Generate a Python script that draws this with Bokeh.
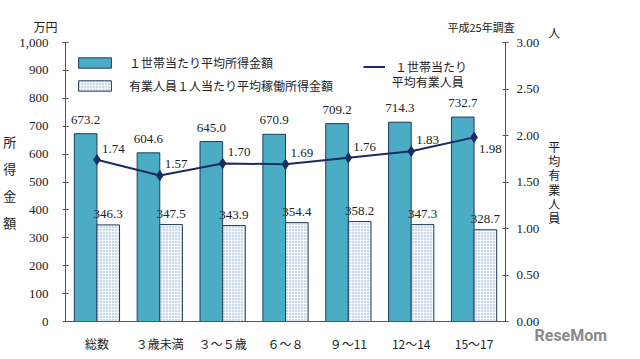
from bokeh.plotting import figure
from bokeh.models import (ColumnDataSource, FactorRange, Range1d, LinearAxis,
                          NumeralTickFormatter, Legend, LegendItem, Label, FixedTicker)
from bokeh.transform import dodge
from bokeh.core.properties import value
from bokeh.embed import file_html
from bokeh.resources import INLINE

# ---- data ----
categories = ["総数", "３歳未満", "３～５歳", "６～８", "９～11", "12～14", "15～17"]
household_income = [673.2, 604.6, 645.0, 670.9, 709.2, 714.3, 732.7]
earner_income = [346.3, 347.5, 343.9, 354.4, 358.2, 347.3, 328.7]
earners_per_household = [1.74, 1.57, 1.70, 1.69, 1.76, 1.83, 1.98]
left_ticks = [0, 100, 200, 300, 400, 500, 600, 700, 800, 900, 1000]
right_ticks = [0.0, 0.5, 1.0, 1.5, 2.0, 2.5, 3.0]

# ---- styles ----
NUM_FONT = "Liberation Serif"
JP_FONT = "Noto Sans CJK JP"
BLUE = "#4bacc6"
OUTLINE = "#1f3b5c"
NAVY = "#1b2a63"
TXT = "#222222"
AX = "#555555"
BLANK = "\u3000"

src = ColumnDataSource(dict(
    cat=categories,
    hh=household_income,
    er=earner_income,
    n=earners_per_household,
    hh_lbl=[f"{v:.1f}" for v in household_income],
    er_lbl=[f"{v:.1f}" for v in earner_income],
    n_lbl=[f"{v:.2f}" for v in earners_per_household],
    n_dy=[-11, -11, -11, -11, -11, -11, 12],
))

p = figure(width=640, height=359, x_range=FactorRange(*categories),
           y_range=Range1d(0, 1000), output_backend="svg", toolbar_location=None,
           min_border_left=60, min_border_right=135, min_border_top=42,
           min_border_bottom=38)
p.outline_line_color = None
p.xgrid.visible = False
p.ygrid.visible = False
p.background_fill_color = "white"
p.border_fill_color = "white"

p.extra_y_ranges = {"r": Range1d(0, 3)}

# left axis
ya = p.yaxis[0]
ya.ticker = FixedTicker(ticks=left_ticks)
ya.formatter = NumeralTickFormatter(format="0,0")
ya.major_label_text_font = NUM_FONT
ya.major_label_text_font_size = "13px"
ya.major_label_text_color = TXT
ya.axis_line_color = AX
ya.major_tick_line_color = AX
ya.major_tick_in = 3
ya.major_tick_out = 3
ya.minor_tick_line_color = None
ya.major_label_standoff = 14
ya.axis_label = "\n".join("所得金額")
ya.axis_label_orientation = "horizontal"
ya.axis_label_text_font = JP_FONT
ya.axis_label_text_font_size = "13px"
ya.axis_label_text_font_style = "normal"
ya.axis_label_text_color = TXT
ya.axis_label_text_line_height = 1.42
ya.axis_label_standoff = 0

# right axis (unit "人" stacked above the vertical title)
ra = LinearAxis(y_range_name="r", ticker=FixedTicker(ticks=right_ticks),
                formatter=NumeralTickFormatter(format="0.00"))
ra.major_label_text_font = NUM_FONT
ra.major_label_text_font_size = "13px"
ra.major_label_text_color = TXT
ra.axis_line_color = AX
ra.major_tick_line_color = AX
ra.major_tick_in = 3
ra.major_tick_out = 3
ra.minor_tick_line_color = None
ra.major_label_standoff = 8
ra.axis_label = "\n".join(["人"] + [BLANK] * 7 + list("平均有業人員") + [BLANK] * 8)
ra.axis_label_orientation = "horizontal"
ra.axis_label_text_font = JP_FONT
ra.axis_label_text_font_size = "12px"
ra.axis_label_text_font_style = "normal"
ra.axis_label_text_color = TXT
ra.axis_label_text_line_height = 0.84
ra.axis_label_standoff = 6
p.add_layout(ra, "right")

# x axis
xa = p.xaxis[0]
xa.major_tick_line_color = None
xa.axis_line_color = AX
xa.major_label_text_font = JP_FONT
xa.major_label_text_font_size = "12px"
xa.major_label_text_color = TXT
xa.major_label_standoff = 7

# bars
b1 = p.vbar(x=dodge("cat", -0.18, range=p.x_range), top="hh", width=0.36, source=src,
            fill_color=BLUE, line_color=OUTLINE, line_width=1)
b2 = p.vbar(x=dodge("cat", 0.18, range=p.x_range), top="er", width=0.36, source=src,
            fill_color="#f4f7fb", hatch_pattern="dot", hatch_color="#8fa9cc",
            hatch_scale=3, hatch_weight=1, line_color=OUTLINE, line_width=1)

# line
l1 = p.line(x="cat", y="n", y_range_name="r", source=src, line_color=NAVY, line_width=2)
p.scatter(x="cat", y="n", y_range_name="r", source=src, marker="diamond", size=10,
          fill_color=NAVY, line_color=NAVY)

# value labels
p.text(x=dodge("cat", -0.18, range=p.x_range), y="hh", text="hh_lbl", source=src,
       text_align="center", text_baseline="middle", y_offset=-14,
       text_font=value(NUM_FONT), text_font_size="13px", text_color=TXT)
p.text(x=dodge("cat", 0.18, range=p.x_range), y="er", text="er_lbl", source=src,
       text_align="center", text_baseline="middle", y_offset=-11,
       text_font=value(NUM_FONT), text_font_size="13px", text_color=TXT)
p.text(x="cat", y="n", text="n_lbl", y_range_name="r", source=src,
       text_align="left", text_baseline="middle", x_offset=5, y_offset="n_dy",
       text_font=value(NUM_FONT), text_font_size="13px", text_color=TXT)

# legends
leg1 = Legend(items=[LegendItem(label="１世帯当たり平均所得金額", renderers=[b1]),
                     LegendItem(label="有業人員１人当たり平均稼働所得金額", renderers=[b2])],
              location=(9, 227), orientation="vertical",
              glyph_width=41, glyph_height=13, label_height=13, spacing=6,
              padding=0, margin=0, label_standoff=14,
              label_text_font=JP_FONT, label_text_font_size="12px",
              label_text_color=TXT, border_line_color=None,
              background_fill_alpha=0)
leg2 = Legend(items=[LegendItem(label="１世帯当たり", renderers=[l1])],
              location=(298, 246), glyph_width=22, glyph_height=13, label_height=13,
              padding=0, margin=0, label_standoff=10,
              label_text_font=JP_FONT, label_text_font_size="12px",
              label_text_color=TXT, border_line_color=None,
              background_fill_alpha=0)
p.add_layout(leg1)
p.add_layout(leg2)
p.add_layout(Label(x=5.19, y=860, text="平均有業人員", text_align="left",
                   text_baseline="middle", text_font=JP_FONT, text_font_size="12px",
                   text_color=TXT))

# texts above the plot frame (side-panel labels, screen units of their own panel)
p.add_layout(Label(x=382, y=16, x_units="screen", y_units="screen", text="平成25年調査",
                   text_align="left", text_baseline="middle", text_font=JP_FONT,
                   text_font_size="11px", text_color=TXT), "above")
p.add_layout(Label(x=-32, y=0, x_units="screen", y_units="screen", text="万円",
                   text_align="left", text_baseline="middle", text_font=JP_FONT,
                   text_font_size="12px", text_color=TXT), "above")
# watermark in the right-hand panel
p.add_layout(Label(x=-29, y=-14, x_units="screen", y_units="screen", text="ReseMom",
                   text_align="left", text_baseline="middle", text_font="Roboto",
                   text_font_size="16px", text_font_style="bold", text_color="#8a8a8a"),
             "right")

open("out.html", "w").write(file_html(p, INLINE))
